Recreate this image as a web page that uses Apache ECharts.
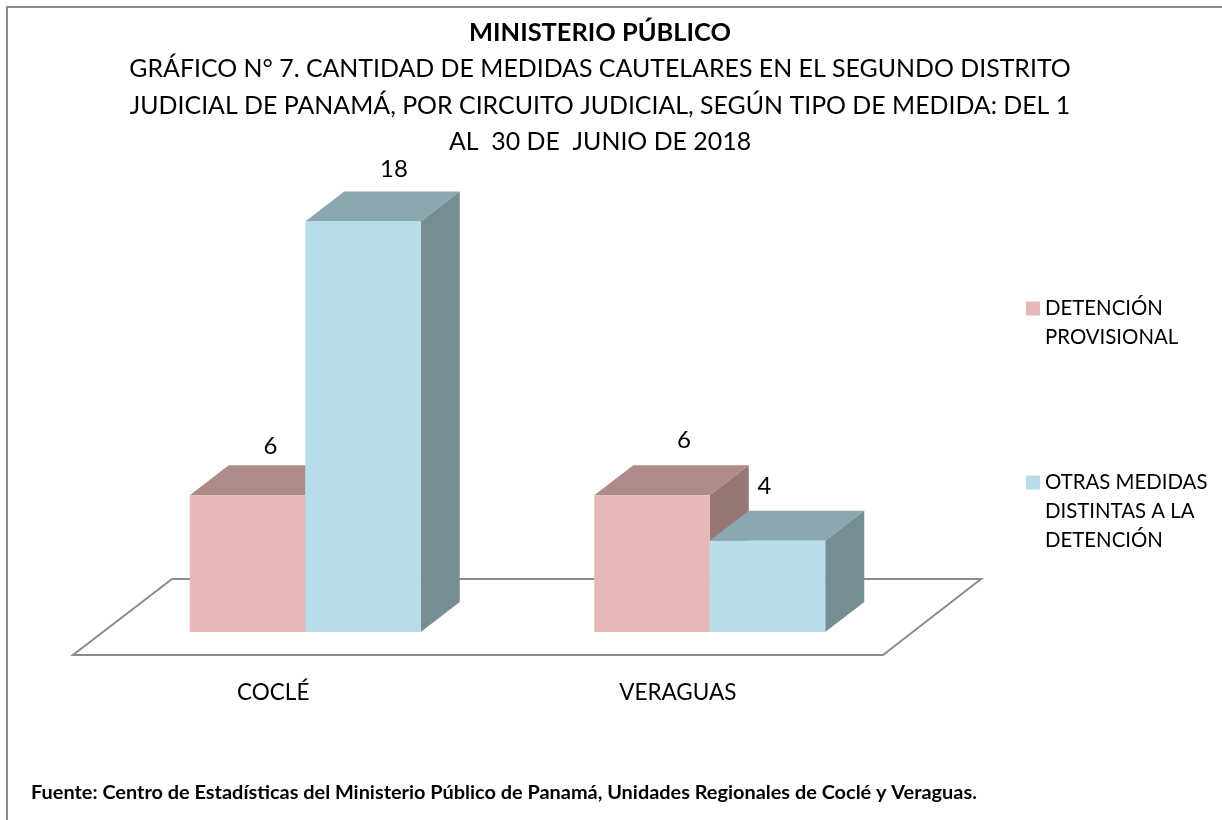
<!DOCTYPE html>
<html>
<head>
<meta charset="utf-8">
<title>Ministerio Público</title>
<script src="https://cdn.jsdelivr.net/npm/echarts@6/dist/echarts.min.js"></script>
<style>
  html, body { margin: 0; padding: 0; background: #fff; }
  #chart { width: 1222px; height: 820px; }
</style>
</head>
<body>
<div id="chart"></div>
<script>
// datos
var categories = ['COCLÉ', 'VERAGUAS'];
var detencion = [6, 6];
var otrasMedidas = [18, 4];
var seriesNames = ['DETENCIÓN PROVISIONAL', 'OTRAS MEDIDAS DISTINTAS A LA DETENCIÓN'];

var titleText = 'MINISTERIO PÚBLICO';
var subText = 'GRÁFICO N° 7. CANTIDAD DE MEDIDAS CAUTELARES EN EL SEGUNDO DISTRITO\n' +
  'JUDICIAL DE PANAMÁ, POR CIRCUITO JUDICIAL, SEGÚN TIPO DE MEDIDA: DEL 1\n' +
  'AL  30 DE  JUNIO DE 2018';
var sourceText = 'Fuente: Centro de Estadísticas del Ministerio Público de Panamá, Unidades Regionales de Coclé y Veraguas.';

var font = 'Lato';
var depthX = 39, depthY = 30;

// barra con cara frontal, superior y lateral; las etiquetas estaban movidas a mano en el original
function bar3d(side, front, top, right, labelShift) {
  return function (params, api) {
    var base = api.coord([api.value(0), 0]);
    var tip = api.coord([api.value(0), api.value(1)]);
    var w = api.size([1, 0])[0] * 0.2855;
    var x0 = base[0] + side * w;
    var x1 = x0 + w;
    var y0 = tip[1], y1 = base[1];
    var shift = labelShift[params.dataIndex];
    return {
      type: 'group',
      children: [
        { type: 'polygon', shape: { points: [[x0, y0], [x0 + depthX, y0 - depthY], [x1 + depthX, y0 - depthY], [x1, y0]] }, style: { fill: top } },
        { type: 'polygon', shape: { points: [[x1, y0], [x1 + depthX, y0 - depthY], [x1 + depthX, y1 - depthY], [x1, y1]] }, style: { fill: right } },
        { type: 'rect', shape: { x: x0, y: y0, width: x1 - x0, height: y1 - y0 }, style: { fill: front } },
        { type: 'text', style: { x: (x0 + x1) / 2 + 22 + shift[0], y: y0 - 50 + shift[1], text: String(api.value(1)), font: '24px ' + font, fill: '#000', align: 'center', verticalAlign: 'middle' } }
      ]
    };
  };
}

// piso del gráfico
function floor(params, api) {
  var c = params.coordSys;
  var bottom = c.y + c.height;
  var l = c.x - 30, r = c.x + c.width - 29;
  return {
    type: 'polygon',
    shape: { points: [[l, bottom + 23], [r, bottom + 23], [r + 98, bottom - 53], [l + 99, bottom - 53]] },
    style: { fill: '#fff', stroke: '#8c8c8c', lineWidth: 2 }
  };
}

var chart = echarts.init(document.getElementById('chart'));

function legendFor(name, top, formatter) {
  return {
    data: [name],
    left: 1026,
    top: top,
    padding: 0,
    orient: 'vertical',
    icon: 'rect',
    itemWidth: 14,
    itemHeight: 14,
    selectedMode: false,
    formatter: formatter,
    textStyle: { fontFamily: font, fontSize: 20.4, color: '#000', lineHeight: 29 }
  };
}

var option = {
  backgroundColor: '#fff',
  animation: false,
  title: {
    text: titleText,
    subtext: subText,
    left: 595,
    textAlign: 'center',
    top: 15,
    itemGap: 6,
    textStyle: { fontFamily: font, fontWeight: 'bold', fontSize: 25.4, color: '#000' },
    subtextStyle: { fontFamily: font, fontSize: 24.9, color: '#000', lineHeight: 36.5, align: 'center' }
  },
  legend: [
    // lineas en blanco delante para que el icono quede junto a la primera linea
    legendFor(seriesNames[0], 265, function () { return '\nDETENCIÓN\nPROVISIONAL'; }),
    legendFor(seriesNames[1], 410, function () { return '\n\nOTRAS MEDIDAS\nDISTINTAS A LA\nDETENCIÓN'; })
  ],
  grid: { left: 103, right: 310, top: 176, bottom: 188 },
  xAxis: {
    type: 'category',
    data: categories,
    axisLine: { show: false },
    axisTick: { show: false },
    axisLabel: { fontFamily: font, fontSize: 22.5, color: '#000', margin: 49, padding: [0, 64, 0, 0] }
  },
  yAxis: { type: 'value', min: 0, max: 20, show: false, splitLine: { show: false } },
  series: [
    { type: 'custom', name: 'piso', data: [[0, 0]], renderItem: floor, silent: true, z: 1 },
    { type: 'custom', name: seriesNames[0], data: detencion.map(function (v, i) { return [i, v]; }), encode: { x: 0, y: 1 },
      renderItem: bar3d(-1, '#E6B8B7', '#AE8B89', '#957876', [[1, 1], [10, -5]]), itemStyle: { color: '#E6B8B7' }, z: 2 },
    { type: 'custom', name: seriesNames[1], data: otrasMedidas.map(function (v, i) { return [i, v]; }), encode: { x: 0, y: 1 },
      renderItem: bar3d(0, '#B7DEE8', '#8BA8B0', '#768D93', [[9, -2], [-25, -5]]), itemStyle: { color: '#B7DEE8' }, z: 3 }
  ],
  graphic: [
    { type: 'rect', z: -1, shape: { x: 7, y: 7, width: 1230, height: 830 }, style: { fill: 'none', stroke: '#8c8c8c', lineWidth: 2 } },
    { type: 'text', left: 31, top: 783, style: { text: sourceText, font: 'bold 19.9px ' + font, fill: '#000' } }
  ]
};
chart.setOption(option);
</script>
</body>
</html>
